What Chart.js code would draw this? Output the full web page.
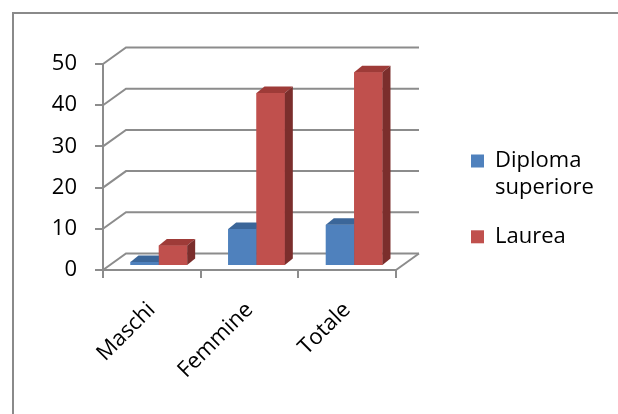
<!DOCTYPE html>
<html>
<head>
<meta charset="utf-8">
<script src="https://cdn.jsdelivr.net/npm/chart.js@4"></script>
<style>
  html, body { margin: 0; padding: 0; background: #fff; }
  canvas { display: block; }
</style>
</head>
<body>
<canvas id="chart" width="618" height="414"></canvas>
<script>
// Data
const categories = ['Maschi', 'Femmine', 'Totale'];
const diplomaValues = [1, 9, 10];
const laureaValues = [5, 42, 47];
const seriesNames = ['Diploma superiore', 'Laurea'];
const legendLines = [['Diploma', 'superiore'], ['Laurea']];
const yTickValues = [0, 10, 20, 30, 40, 50];

// Styling
const GRAY = '#8c8c8c';
const FONT = { family: '"Open Sans", sans-serif', size: 22, lineHeight: 1.2 };
const WALL = { dx: 23, dy: -16.5 };      // depth of back wall / floor
const BAR_PLANE = { dx: 7, dy: -4 };     // bars sit slightly behind the front plane
const BAR_DEPTH = { dx: 8, dy: -6.5 };   // thickness of each column
const FRONT = ['#4f81bd', '#c0504d'];
const TOP = ['#3b6699', '#9e3b38'];
const SIDE = ['#375f8f', '#7b2e2c'];

// Outer frame (top and left edges)
const framePlugin = {
  id: 'frame',
  beforeDraw(chart) {
    const ctx = chart.ctx;
    ctx.save();
    ctx.fillStyle = '#fff';
    ctx.fillRect(0, 0, chart.width, chart.height);
    ctx.strokeStyle = '#8a8a8a';
    ctx.lineWidth = 2;
    ctx.beginPath();
    ctx.moveTo(13, chart.height);
    ctx.lineTo(13, 13);
    ctx.lineTo(chart.width, 13);
    ctx.stroke();
    ctx.restore();
  }
};

// Place the legend to the right of the plot
const legendPlacement = {
  id: 'legendPlacement',
  afterLayout(chart) {
    const lg = chart.legend;
    if (!lg) return;
    const pad = lg.options.labels.padding;
    lg.left = 471 - pad;
    lg.right = chart.width;
    lg.top = 150 - pad;
    lg.bottom = chart.height;
    lg.width = lg.right - lg.left;
    lg.height = lg.bottom - lg.top;
  }
};

// 3D walls, floor and column faces
const depthPlugin = {
  id: 'depth',
  beforeDatasetsDraw(chart) {
    const { ctx, chartArea } = chart;
    const yScale = chart.scales.y;
    const left = chartArea.left, right = chartArea.right;
    ctx.save();
    ctx.strokeStyle = GRAY;
    ctx.lineWidth = 2;
    yTickValues.forEach(v => {
      const y = yScale.getPixelForValue(v);
      ctx.beginPath();
      ctx.moveTo(left, y);
      ctx.lineTo(left + WALL.dx, y + WALL.dy);
      ctx.lineTo(right + WALL.dx, y + WALL.dy);
      ctx.stroke();
    });
    const y0 = yScale.getPixelForValue(0);
    ctx.beginPath();
    ctx.moveTo(right, y0);
    ctx.lineTo(right + WALL.dx, y0 + WALL.dy);
    ctx.stroke();
    ctx.restore();

    ctx.save();
    ctx.translate(BAR_PLANE.dx, BAR_PLANE.dy);
  },
  afterDatasetsDraw(chart) {
    const ctx = chart.ctx;
    // paint series in order so later columns cover earlier side faces
    chart.data.datasets.forEach((ds, di) => {
      const meta = chart.getDatasetMeta(di);
      meta.data.forEach(el => {
        el.draw(ctx);
        const { x, y, base, width } = el.getProps(['x', 'y', 'base', 'width'], true);
        const l = x - width / 2, r = x + width / 2;
        const top = Math.min(y, base), bottom = Math.max(y, base);
        // top face
        ctx.fillStyle = TOP[di];
        ctx.beginPath();
        ctx.moveTo(l, top);
        ctx.lineTo(r, top);
        ctx.lineTo(r + BAR_DEPTH.dx, top + BAR_DEPTH.dy);
        ctx.lineTo(l + BAR_DEPTH.dx, top + BAR_DEPTH.dy);
        ctx.closePath();
        ctx.fill();
        // right side face
        ctx.fillStyle = SIDE[di];
        ctx.beginPath();
        ctx.moveTo(r, top);
        ctx.lineTo(r + BAR_DEPTH.dx, top + BAR_DEPTH.dy);
        ctx.lineTo(r + BAR_DEPTH.dx, bottom + BAR_DEPTH.dy);
        ctx.lineTo(r, bottom);
        ctx.closePath();
        ctx.fill();
      });
    });
    ctx.restore();
  }
};

new Chart(document.getElementById('chart'), {
  type: 'bar',
  data: {
    labels: categories,
    datasets: [
      { label: seriesNames[0], data: diplomaValues, backgroundColor: FRONT[0], borderWidth: 0 },
      { label: seriesNames[1], data: laureaValues, backgroundColor: FRONT[1], borderWidth: 0 }
    ]
  },
  options: {
    responsive: false,
    devicePixelRatio: 1,
    animation: false,
    layout: { padding: { left: 0, top: 64, right: 222, bottom: 0 } },
    datasets: { bar: { categoryPercentage: 0.58, barPercentage: 1 } },
    scales: {
      x: {
        afterFit(scale) { scale.height = 144; },
        grid: { drawOnChartArea: false, color: GRAY, lineWidth: 2, tickLength: 8, offset: true },
        border: { color: GRAY, width: 2 },
        ticks: { color: '#000', font: FONT, minRotation: 45, maxRotation: 45, padding: 19 }
      },
      y: {
        min: 0,
        max: 50,
        afterFit(scale) { scale.width = 103; },
        afterBuildTicks(scale) { scale.ticks = yTickValues.map(v => ({ value: v })); },
        grid: { drawOnChartArea: false, color: GRAY, lineWidth: 2, tickLength: 8 },
        border: { color: GRAY, width: 2 },
        ticks: { color: '#000', font: FONT, padding: 18 }
      }
    },
    plugins: {
      tooltip: { enabled: false },
      legend: {
        position: 'chartArea',
        align: 'start',
        labels: {
          color: '#000',
          font: FONT,
          boxWidth: 13,
          boxHeight: 13,
          padding: 23,
          generateLabels(chart) {
            return chart.data.datasets.map((ds, i) => ({
              text: legendLines[i].length > 1 ? legendLines[i] : legendLines[i][0],
              fillStyle: ds.backgroundColor,
              strokeStyle: ds.backgroundColor,
              lineWidth: 0,
              hidden: false,
              datasetIndex: i
            }));
          }
        }
      }
    }
  },
  plugins: [framePlugin, legendPlacement, depthPlugin]
});
</script>
</body>
</html>
